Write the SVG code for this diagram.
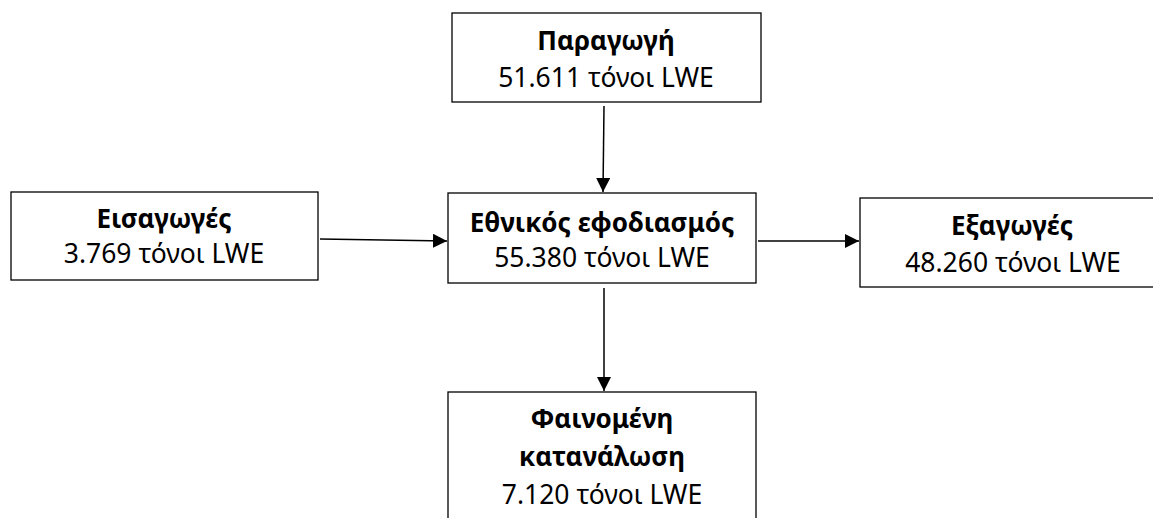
<svg xmlns="http://www.w3.org/2000/svg" width="1153" height="518" viewBox="0 0 1153 518">
<style>
.box{fill:#fff;stroke:#000;stroke-width:1.3}
.t{font-family:"Noto Sans","DejaVu Sans",sans-serif;font-weight:bold;font-size:26px;fill:#000;text-anchor:middle}
.v{font-family:"Noto Sans","DejaVu Sans",sans-serif;font-size:26.5px;fill:#000;text-anchor:middle}
.c{stroke:#000;stroke-width:1.5;fill:none}
</style>
<defs>
<marker id="ah" viewBox="0 0 10 10" refX="10" refY="5" markerWidth="14" markerHeight="14" markerUnits="userSpaceOnUse" orient="auto">
<path d="M0,0 L10,5 L0,10 Z" fill="#000"/>
</marker>
</defs>
<g id="connectors">
<path class="c" d="M604,106 L603,192" marker-end="url(#ah)"/>
<path class="c" d="M320,239 L447,241" marker-end="url(#ah)"/>
<path class="c" d="M758,241 L859,241" marker-end="url(#ah)"/>
<path class="c" d="M604,288 L604,391" marker-end="url(#ah)"/>
</g>
<g id="paragogi">
<rect class="box" x="452" y="13" width="309" height="89"/>
<text class="t" x="606" y="50">Παραγωγή</text>
<text class="v" x="606" y="87">51.611 τόνοι LWE</text>
</g>
<g id="eisagoges">
<rect class="box" x="11" y="192" width="307" height="88"/>
<text class="t" x="164" y="228">Εισαγωγές</text>
<text class="v" x="164" y="263">3.769 τόνοι LWE</text>
</g>
<g id="ethnikos">
<rect class="box" x="448" y="193" width="308" height="90"/>
<text class="t" x="602" y="232">Εθνικός εφοδιασμός</text>
<text class="v" x="602" y="267">55.380 τόνοι LWE</text>
</g>
<g id="exagoges">
<rect class="box" x="860" y="198" width="310" height="89"/>
<text class="t" x="1012" y="235">Εξαγωγές</text>
<text class="v" x="1013" y="272">48.260 τόνοι LWE</text>
</g>
<g id="katanalosi">
<rect class="box" x="448" y="392" width="308" height="140"/>
<text class="t" x="602" y="428">Φαινομένη</text>
<text class="t" x="602" y="466">κατανάλωση</text>
<text class="v" x="602" y="504">7.120 τόνοι LWE</text>
</g>
</svg>
